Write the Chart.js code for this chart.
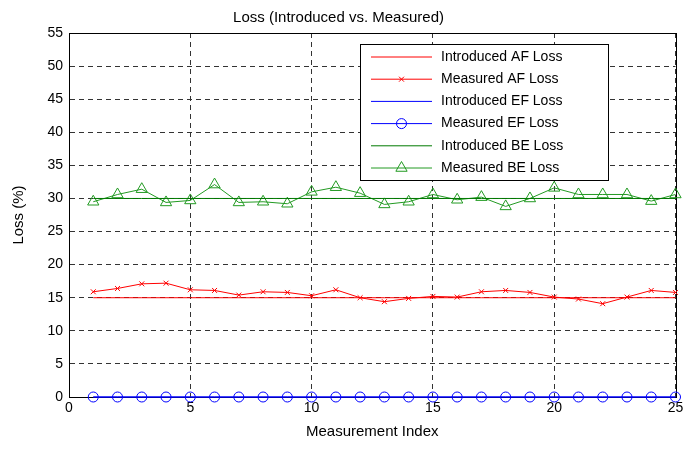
<!DOCTYPE html>
<html lang="en">
<head>
  <meta charset="UTF-8">
  <title>Loss (Introduced vs. Measured)</title>
  <script src="https://cdn.jsdelivr.net/npm/chart.js"></script>
  <style>
    html, body { margin: 0; padding: 0; background: #fff; }
    .chart-box { position: relative; width: 683px; height: 467px; }
  </style>
</head>
<body>
  <div class="chart-box">
    <canvas id="lossChart"></canvas>
  </div>

  <script>
    // Data
    const indices = [1, 2, 3, 4, 5, 6, 7, 8, 9, 10, 11, 12, 13, 14, 15, 16, 17, 18, 19, 20, 21, 22, 23, 24, 25];
    const introducedAF = [15, 15, 15, 15, 15, 15, 15, 15, 15, 15, 15, 15, 15, 15, 15, 15, 15, 15, 15, 15, 15, 15, 15, 15, 15];
    const measuredAF = [15.9, 16.4, 17.1, 17.2, 16.2, 16.1, 15.4, 15.9, 15.8, 15.3, 16.2, 15.0, 14.4, 14.9, 15.2, 15.1, 15.9, 16.1, 15.8, 15.1, 14.8, 14.1, 15.1, 16.1, 15.8];
    const introducedEF = [0, 0, 0, 0, 0, 0, 0, 0, 0, 0, 0, 0, 0, 0, 0, 0, 0, 0, 0, 0, 0, 0, 0, 0, 0];
    const measuredEF = [0, 0, 0, 0, 0, 0, 0, 0, 0, 0, 0, 0, 0, 0, 0, 0, 0, 0, 0, 0, 0, 0, 0, 0, 0];
    const introducedBE = [30, 30, 30, 30, 30, 30, 30, 30, 30, 30, 30, 30, 30, 30, 30, 30, 30, 30, 30, 30, 30, 30, 30, 30, 30];
    const measuredBE = [29.5, 30.6, 31.4, 29.4, 29.7, 32.1, 29.4, 29.5, 29.2, 31.0, 31.7, 30.8, 29.1, 29.5, 30.6, 29.8, 30.2, 28.8, 30.0, 31.6, 30.6, 30.6, 30.6, 29.6, 30.6];
    const xTicks = [0, 5, 10, 15, 20, 25];
    const yTicks = [0, 5, 10, 15, 20, 25, 30, 35, 40, 45, 50, 55];

    const FONT = 'Liberation Sans, Arial, sans-serif';
    const toPoints = (vals) => indices.map((x, i) => ({ x: x, y: vals[i] }));

    // MATLAB-style legend box inside the axes, top right
    const legendBox = {
      id: 'legendBox',
      afterDraw(chart) {
        const ctx = chart.ctx;
        const left = 360, top = 44, w = 248, h = 136, row = 22.2;
        ctx.save();
        ctx.fillStyle = '#fff';
        ctx.fillRect(left, top, w, h);
        ctx.strokeStyle = '#000';
        ctx.lineWidth = 1;
        ctx.strokeRect(left + 0.5, top + 0.5, w, h);
        ctx.font = '14px ' + FONT;
        ctx.textBaseline = 'middle';
        chart.data.datasets.forEach((ds, i) => {
          const y = top + 13 + i * row;
          ctx.strokeStyle = ds.borderColor;
          ctx.lineWidth = 1;
          ctx.beginPath();
          ctx.moveTo(371, y);
          ctx.lineTo(432, y);
          ctx.stroke();
          if (ds.pointRadius > 0) {
            ctx.fillStyle = 'rgba(0,0,0,0)';
            Chart.helpers.drawPoint(ctx, {
              pointStyle: ds.pointStyle, radius: ds.pointRadius,
              rotation: 0, borderWidth: 1
            }, 401.5, y);
          }
          ctx.fillStyle = '#000';
          ctx.fillText(ds.label, 441, y);
        });
        ctx.restore();
      }
    };

    // Full box around the axes
    const axesBox = {
      id: 'axesBox',
      beforeDatasetsDraw(chart) {
        const a = chart.chartArea;
        const ctx = chart.ctx;
        ctx.save();
        ctx.strokeStyle = '#000';
        ctx.lineWidth = 1;
        ctx.strokeRect(Math.round(a.left) + 0.5, Math.round(a.top) + 0.5,
          Math.round(a.right - a.left), Math.round(a.bottom - a.top));
        ctx.restore();
      }
    };

    const ctx = document.getElementById('lossChart').getContext('2d');
    new Chart(ctx, {
      type: 'line',
      data: {
        datasets: [
          { label: 'Introduced AF Loss', data: toPoints(introducedAF), borderColor: '#ff0000',
            borderWidth: 1, pointRadius: 0 },
          { label: 'Measured AF Loss', data: toPoints(measuredAF), borderColor: '#ff0000',
            borderWidth: 1, pointStyle: 'crossRot', pointRadius: 3.5, pointBorderWidth: 1 },
          { label: 'Introduced EF Loss', data: toPoints(introducedEF), borderColor: '#0000ff',
            borderWidth: 1, pointRadius: 0 },
          { label: 'Measured EF Loss', data: toPoints(measuredEF), borderColor: '#0000ff',
            borderWidth: 1, pointStyle: 'circle', pointRadius: 5, pointBorderWidth: 1,
            pointBackgroundColor: 'rgba(0,0,0,0)' },
          { label: 'Introduced BE Loss', data: toPoints(introducedBE), borderColor: '#007a00',
            borderWidth: 1, pointRadius: 0 },
          { label: 'Measured BE Loss', data: toPoints(measuredBE), borderColor: '#229a22',
            borderWidth: 1, pointStyle: 'triangle', pointRadius: 6.5, pointBorderWidth: 1,
            pointBackgroundColor: 'rgba(0,0,0,0)' }
        ]
      },
      options: {
        responsive: true,
        maintainAspectRatio: false,
        animation: false,
        layout: { padding: { left: 0, right: 6, top: 0, bottom: 0 } },
        elements: { line: { tension: 0 } },
        datasets: { line: { clip: false } },
        plugins: {
          legend: { display: false },
          tooltip: { enabled: false },
          title: {
            display: true,
            text: 'Loss (Introduced vs. Measured)',
            color: '#000',
            font: { family: FONT, size: 15, weight: 'normal' },
            padding: { top: 9, bottom: 6 }
          }
        },
        scales: {
          x: {
            type: 'linear',
            min: 0, max: 25,
            afterBuildTicks: (s) => { s.ticks = xTicks.map(v => ({ value: v })); },
            afterFit: (s) => { s.height = 70; s.paddingLeft = 0; s.paddingRight = 0; },
            grid: { color: '#333', lineWidth: 1, drawTicks: false },
            border: { display: true, color: '#000', dash: [5, 4] },
            ticks: { color: '#000', padding: 3, font: { family: FONT, size: 14 } },
            title: {
              display: true, text: 'Measurement Index', color: '#000',
              font: { family: FONT, size: 15 }, padding: { top: 0, bottom: 26 }
            }
          },
          y: {
            min: 0, max: 55,
            afterBuildTicks: (s) => { s.ticks = yTicks.map(v => ({ value: v })); },
            afterFit: (s) => { s.width = 69; },
            grid: { color: '#333', lineWidth: 1, drawTicks: false },
            border: { display: true, color: '#000', dash: [5, 4] },
            ticks: { color: '#000', padding: 6, font: { family: FONT, size: 14 } },
            title: {
              display: true, text: 'Loss (%)', color: '#000',
              font: { family: FONT, size: 15 }, padding: { top: 10, bottom: 0 }
            }
          }
        }
      },
      plugins: [axesBox, legendBox]
    });
  </script>
</body>
</html>
